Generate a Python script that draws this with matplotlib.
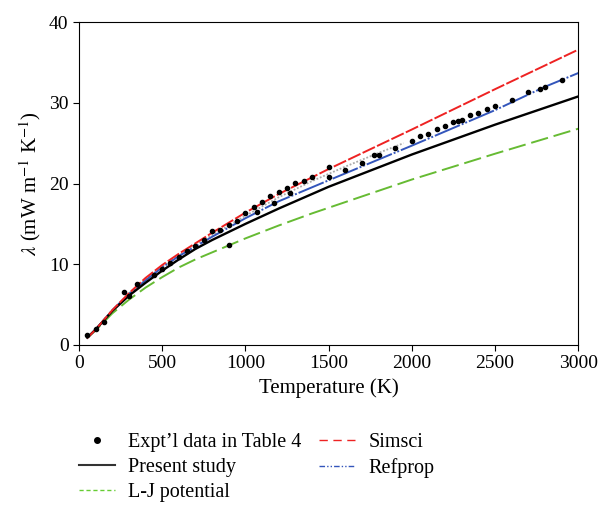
import numpy as np
import matplotlib.pyplot as plt
from matplotlib.lines import Line2D

plt.rcParams['font.family'] = ['Liberation Serif', 'DejaVu Serif']
plt.rcParams['mathtext.fontset'] = 'stix'

# experimental points (Table 4)
expt_T = [50, 100, 150, 270, 300, 350, 450, 500, 550, 600, 650, 700, 750, 800, 850, 900, 900,
          950, 1000, 1050, 1070, 1100, 1150, 1170, 1200, 1250, 1270, 1300, 1350, 1400, 1500, 1500,
          1600, 1700, 1770, 1800, 1900, 2000, 2050, 2100, 2150, 2200, 2250, 2275, 2300, 2350,
          2400, 2450, 2500, 2600, 2700, 2770, 2800, 2900]
expt_k = [1.2, 2.0, 2.85, 6.5, 6.1, 7.5, 8.7, 9.4, 10.1, 10.9, 11.7, 12.3, 13.0, 14.1, 14.25, 14.9, 12.4,
          15.4, 16.3, 17.1, 16.5, 17.7, 18.4, 17.6, 18.9, 19.5, 18.8, 20.1, 20.3, 20.8, 22.1, 20.8,
          21.7, 22.6, 23.5, 23.5, 24.4, 25.3, 25.9, 26.2, 26.8, 27.1, 27.6, 27.8, 27.9, 28.5,
          28.8, 29.3, 29.6, 30.4, 31.3, 31.7, 32.0, 32.8]

T = [50, 100, 200, 300, 400, 500, 600, 700, 800, 1000, 1200, 1500, 2000, 2500, 3000]
present = [0.9, 1.9, 4.2, 6.1, 7.7, 9.2, 10.6, 11.9, 13.0, 15.0, 16.9, 19.6, 23.6, 27.3, 30.8]
simsci = [0.85, 1.9, 4.3, 6.4, 8.3, 9.9, 11.3, 12.6, 13.9, 16.4, 18.7, 21.8, 26.7, 31.7, 36.6]

T_lj = [50, 100, 200, 300, 400, 500, 600, 700, 1000, 1200, 1400, 1600, 2000, 2500, 3000]
lj = [0.9, 1.8, 3.9, 5.6, 7.1, 8.4, 9.6, 10.6, 13.2, 14.8, 16.3, 17.7, 20.5, 23.7, 26.8]

T_ref = [50, 100, 200, 300, 400, 500, 600, 700, 800, 1000, 1200, 1500, 2000, 2500, 2800, 3000]
refprop = [0.9, 1.9, 4.3, 6.3, 8.0, 9.6, 11.0, 12.2, 13.4, 15.7, 17.8, 20.4, 24.7, 29.1, 32.0, 33.7]

# gray dotted band (no legend entry)
gray_T = [300, 400, 500, 600, 700, 800, 900, 1000, 1200, 1400, 1600, 1800, 1950]
gray_k = [6.4, 8.1, 9.7, 11.1, 12.4, 13.6, 14.8, 16.0, 18.3, 20.3, 22.1, 23.8, 25.0]

fig = plt.figure(figsize=(5.98, 5.05), dpi=100)
ax = fig.add_axes([0.132, 0.317, 0.835, 0.639])

ax.plot(gray_T, gray_k, color='#aaaaaa', linestyle=(0, (1, 1)), linewidth=1.3, zorder=1)
ax.plot(T_lj, lj, color='#66bb33', linestyle=(0, (9, 3)), linewidth=1.4)
ax.plot(T_ref, refprop, color='#3355bb', linestyle=(0, (14, 1, 1, 1, 1, 1)), linewidth=1.4)
ax.plot(T, present, color='black', linewidth=1.7)
ax.plot(T, simsci, color='#ee2222', linestyle=(0, (7, 1.2)), linewidth=1.4)
ax.plot(expt_T, expt_k, 'o', color='black', markersize=3, linestyle='none', zorder=5)

ax.set_xlim(0, 3000)
ax.set_ylim(0, 40)
ax.set_xticks(range(0, 3001, 500))
ax.set_yticks(range(0, 41, 10))
ax.tick_params(labelsize=14, direction='out', length=4)
ax.set_xlabel('Temperature (K)', fontsize=15)
ax.set_ylabel(r'$\lambda$ (mW m$^{-1}$ K$^{-1}$)', fontsize=15)

# legend handles drawn as in the original key
handles = [
    Line2D([], [], marker='o', color='black', markersize=4, linestyle='none'),
    Line2D([], [], color='#333333', linewidth=1.5),
    Line2D([], [], color='#66cc33', linewidth=1.0, linestyle=(0, (3, 2))),
    Line2D([], [], color='#ee2222', linewidth=1.0, linestyle=(0, (6, 4))),
    Line2D([], [], color='#3355bb', linewidth=1.0, linestyle=(0, (4, 1.5, 1, 1.5, 1, 1.5))),
]
labels = ["Expt\u2019l data in Table 4", 'Present study', 'L-J potential', 'Simsci', 'Refprop']
fig.legend(handles, labels, loc='upper left', bbox_to_anchor=(79 / 598, 1 - 433 / 505),
           ncol=2, frameon=False, fontsize=14.5, handlelength=1.8, handletextpad=0.65,
           labelspacing=0.3, columnspacing=0.85, borderpad=0, borderaxespad=0)

fig.savefig('out.png', dpi=100)
